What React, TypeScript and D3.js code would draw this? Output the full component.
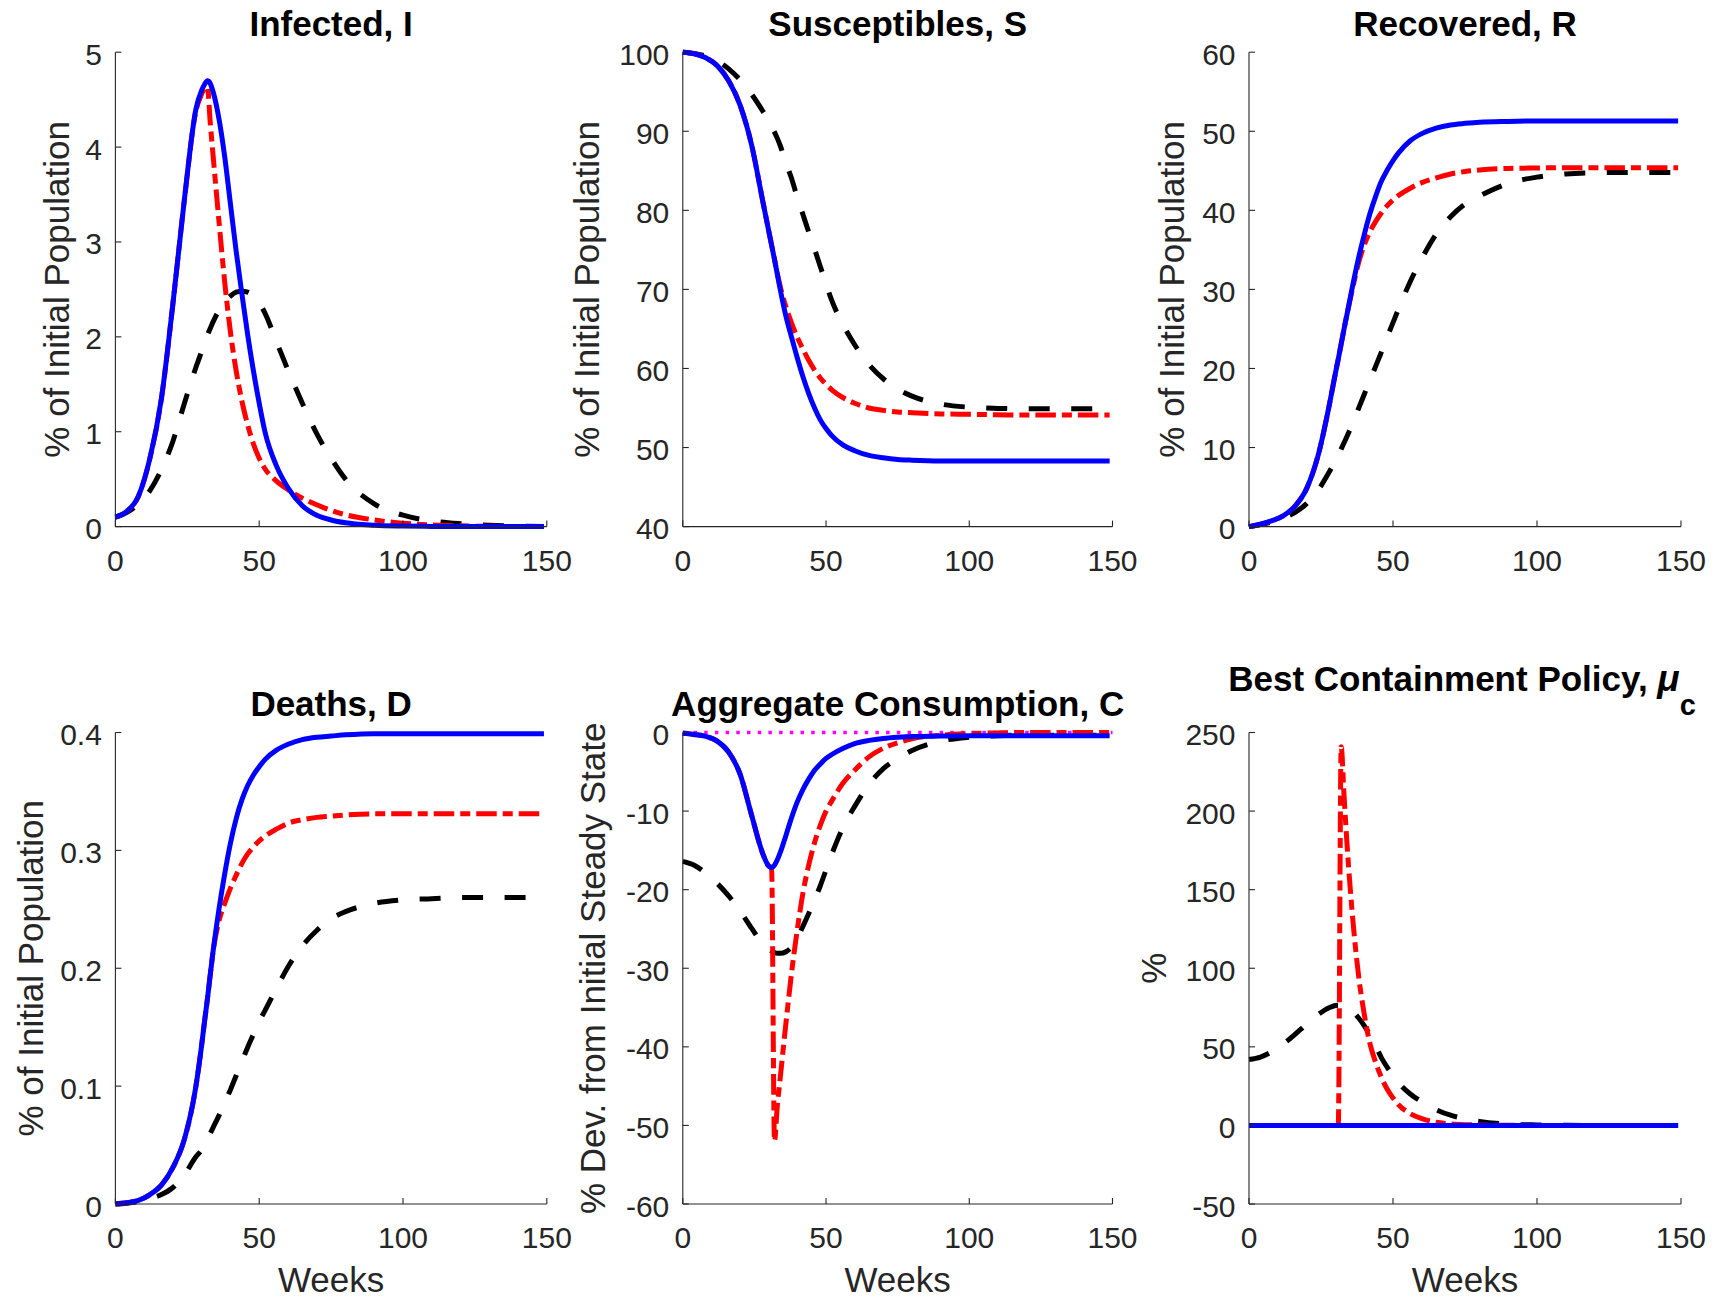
import React from 'react';
import * as d3 from 'd3';

// ---------- data (weeks grid shared by all series) ----------
const weeks = [0, 4, 8, 12, 16, 20, 24, 28, 30, 31, 32, 33, 34, 36, 38, 40, 42, 44, 46, 48, 50, 52, 56, 60, 65, 70, 75, 80, 90, 100, 110, 120, 135, 149];

const infectedBlue = [0.10, 0.16, 0.32, 0.72, 1.35, 2.35, 3.45, 4.40, 4.60, 4.66, 4.70, 4.67, 4.58, 4.30, 3.90, 3.40, 2.90, 2.45, 2.02, 1.64, 1.30, 1.00, 0.64, 0.41, 0.22, 0.12, 0.07, 0.04, 0.015, 0.006, 0.002, 0.001, 0, 0];
const infectedRed = [0.10, 0.16, 0.32, 0.72, 1.35, 2.35, 3.45, 4.38, 4.56, 4.62, 4.63, 4.25, 3.90, 3.22, 2.58, 2.05, 1.64, 1.32, 1.07, 0.87, 0.72, 0.61, 0.48, 0.39, 0.30, 0.23, 0.17, 0.125, 0.07, 0.035, 0.018, 0.008, 0.002, 0];
const infectedBlack = [0.10, 0.15, 0.24, 0.38, 0.60, 0.90, 1.30, 1.68, 1.85, 1.95, 2.02, 2.09, 2.16, 2.28, 2.37, 2.43, 2.47, 2.48, 2.47, 2.43, 2.36, 2.25, 1.95, 1.65, 1.30, 0.98, 0.72, 0.50, 0.24, 0.12, 0.06, 0.03, 0.01, 0];

const susBlue = [100, 99.8, 99.3, 98.3, 96.4, 93.3, 88.3, 81.0, 77.4, 75.6, 73.8, 71.9, 70.0, 66.6, 63.9, 61.3, 58.9, 56.8, 55.0, 53.5, 52.4, 51.5, 50.3, 49.6, 49.0, 48.7, 48.5, 48.4, 48.3, 48.3, 48.3, 48.3, 48.3, 48.3];
const susRed = [100, 99.8, 99.3, 98.3, 96.4, 93.3, 88.3, 81.0, 77.4, 75.6, 73.8, 72.0, 70.4, 67.8, 65.7, 63.9, 62.4, 61.0, 59.8, 58.8, 58.0, 57.3, 56.3, 55.6, 55.0, 54.7, 54.5, 54.4, 54.25, 54.2, 54.15, 54.1, 54.1, 54.1];
const susBlack = [100, 99.85, 99.5, 98.9, 97.9, 96.5, 94.7, 92.5, 91.3, 90.6, 89.9, 89.1, 88.2, 86.0, 84.0, 81.6, 79.4, 77.2, 75.1, 72.9, 70.7, 68.6, 65.5, 63.0, 60.5, 58.7, 57.4, 56.5, 55.5, 55.1, 54.95, 54.9, 54.9, 54.9];

const recBlue = [0, 0.3, 0.75, 1.4, 2.6, 4.8, 9.0, 15.6, 19.4, 21.2, 23.1, 25.0, 26.8, 30.5, 33.9, 36.9, 39.6, 41.8, 43.7, 45.1, 46.3, 47.3, 48.8, 49.7, 50.4, 50.8, 51.0, 51.15, 51.25, 51.3, 51.3, 51.3, 51.3, 51.3];
const recRed = [0, 0.3, 0.75, 1.4, 2.6, 4.8, 9.0, 15.6, 19.4, 21.2, 23.1, 25.0, 26.8, 30.2, 33.3, 35.6, 37.3, 38.6, 39.7, 40.6, 41.3, 41.9, 42.8, 43.5, 44.1, 44.6, 44.9, 45.1, 45.3, 45.35, 45.4, 45.4, 45.4, 45.4];
const recBlack = [0, 0.25, 0.6, 1.1, 1.8, 2.9, 4.6, 7.0, 8.3, 9.0, 9.8, 10.6, 11.4, 13.1, 14.9, 16.7, 18.5, 20.3, 22.1, 24.0, 25.8, 27.6, 31.0, 33.9, 37.0, 39.2, 40.8, 41.8, 43.4, 44.2, 44.6, 44.75, 44.8, 44.8];

const deathBlue = [0, 0.001, 0.003, 0.008, 0.016, 0.031, 0.055, 0.100, 0.135, 0.155, 0.174, 0.195, 0.215, 0.250, 0.280, 0.306, 0.327, 0.343, 0.355, 0.364, 0.371, 0.377, 0.385, 0.390, 0.394, 0.396, 0.397, 0.398, 0.399, 0.399, 0.399, 0.399, 0.399, 0.399];
const deathRed = [0, 0.001, 0.003, 0.008, 0.016, 0.031, 0.055, 0.100, 0.135, 0.155, 0.174, 0.195, 0.215, 0.240, 0.255, 0.268, 0.279, 0.289, 0.297, 0.303, 0.308, 0.312, 0.318, 0.323, 0.326, 0.328, 0.329, 0.330, 0.331, 0.331, 0.331, 0.331, 0.331, 0.331];
const deathBlack = [0, 0.0007, 0.002, 0.0045, 0.008, 0.014, 0.025, 0.040, 0.046, 0.050, 0.055, 0.060, 0.065, 0.075, 0.086, 0.097, 0.109, 0.121, 0.133, 0.144, 0.155, 0.164, 0.183, 0.201, 0.219, 0.232, 0.242, 0.248, 0.255, 0.258, 0.259, 0.26, 0.26, 0.26];

const consBlue = [-0.1, -0.25, -0.5, -1.1, -2.5, -5.3, -10.5, -15.5, -17.0, -17.2, -16.9, -16.2, -15.3, -13.1, -10.8, -8.8, -7.2, -5.9, -4.8, -4.0, -3.3, -2.8, -2.0, -1.4, -1.0, -0.75, -0.6, -0.5, -0.45, -0.4, -0.4, -0.4, -0.4, -0.4];
const consRed = [-0.1, -0.25, -0.5, -1.1, -2.5, -5.3, -10.5, -15.5, -17.0, -17.2, -52, -47.5, -44, -37, -30.5, -25, -20.3, -16.8, -14, -11.8, -10, -8.7, -6.4, -4.8, -3.1, -2.0, -1.3, -0.8, -0.35, -0.15, -0.05, 0, 0, 0];
const consBlack = [-16.4, -16.9, -17.9, -19.2, -20.8, -22.7, -24.9, -26.9, -27.5, -27.8, -28.0, -28.1, -28.1, -27.9, -27.3, -26.1, -24.6, -23.0, -21.3, -19.5, -17.5, -15.5, -12.0, -9.4, -6.6, -4.6, -3.3, -2.3, -1.1, -0.6, -0.4, -0.35, -0.35, -0.35];
const consZeroWeeks = [0, 150];
const consZero = [0, 0];

const policyBlue = [0, 0, 0, 0, 0, 0, 0, 0, 0, 0, 0, 0, 0, 0, 0, 0, 0, 0, 0, 0, 0, 0, 0, 0, 0, 0, 0, 0, 0, 0, 0, 0, 0, 0];
const policyRed = [0, 0, 0, 0, 0, 0, 0, 0, 0, 0, 241, 210, 180, 132, 96, 71, 52, 40, 30.5, 23, 17.5, 13, 7.5, 4.3, 2.0, 1.0, 0.5, 0.25, 0.05, 0, 0, 0, 0, 0];
const policyBlack = [42, 43.5, 47, 52, 58, 64.5, 70.5, 75, 76.3, 76.5, 76.3, 75.8, 75, 72.5, 68.5, 63.5, 57.5, 50.5, 43, 37, 32, 27, 20, 15, 10, 6.5, 4.2, 2.5, 0.8, 0.3, 0.1, 0, 0, 0];

// ---------- tick labels ----------
const xTicks = [0, 50, 100, 150];
const ticksI = [0, 1, 2, 3, 4, 5];
const ticksS = [40, 50, 60, 70, 80, 90, 100];
const ticksR = [0, 10, 20, 30, 40, 50, 60];
const ticksD = [0, 0.1, 0.2, 0.3, 0.4];
const ticksC = [-60, -50, -40, -30, -20, -10, 0];
const ticksP = [-50, 0, 50, 100, 150, 200, 250];

const titles = ['Infected, I', 'Susceptibles, S', 'Recovered, R', 'Deaths, D', 'Aggregate Consumption, C', 'Best Containment Policy, '];
const yLabels = ['% of Initial Population', '% of Initial Population', '% of Initial Population', '% of Initial Population', '% Dev. from Initial Steady State', '%'];

// ---------- layout ----------
const W = 1717;
const H = 1298;
const COLS = [[115.4, 546.8], [682.8, 1112.5], [1249, 1681]];
const ROWS = [[52.2, 526.6], [732.5, 1204]];
const YLABEL_X = [68.5, 598.8, 1184.4, 42.5, 605, 1166];
const TITLE_Y = [36, 36, 36, 716, 716, 691];
const AXIS = '#262626';
const FONT = '"Liberation Sans", Arial, Helvetica, sans-serif';
const TICK_FS = 30;
const LABEL_FS = 35;
const TITLE_FS = 35;

const STYLE = {
  black: { stroke: '#000000', dash: '21 21.5' },
  red: { stroke: '#ff0000', dash: '20.5 6 10 6' },
  blue: { stroke: '#0000ff', dash: null },
  magenta: { stroke: '#ff00ff', dash: '3.5 7.2' },
};

type Series = { xs: number[]; ys: number[]; kind: keyof typeof STYLE; width: number };
type PanelCfg = { ticks: number[]; domain: [number, number]; series: Series[]; fmt?: (v: number) => string };

const lw = 5;
const panels: PanelCfg[] = [
  { ticks: ticksI, domain: [0, 5], series: [
    { xs: weeks, ys: infectedBlack, kind: 'black', width: lw },
    { xs: weeks, ys: infectedRed, kind: 'red', width: lw },
    { xs: weeks, ys: infectedBlue, kind: 'blue', width: lw },
  ] },
  { ticks: ticksS, domain: [40, 100], series: [
    { xs: weeks, ys: susBlack, kind: 'black', width: lw },
    { xs: weeks, ys: susRed, kind: 'red', width: lw },
    { xs: weeks, ys: susBlue, kind: 'blue', width: lw },
  ] },
  { ticks: ticksR, domain: [0, 60], series: [
    { xs: weeks, ys: recBlack, kind: 'black', width: lw },
    { xs: weeks, ys: recRed, kind: 'red', width: lw },
    { xs: weeks, ys: recBlue, kind: 'blue', width: lw },
  ] },
  { ticks: ticksD, domain: [0, 0.4], fmt: (v) => (v === 0 ? '0' : d3.format('.1f')(v)), series: [
    { xs: weeks, ys: deathBlack, kind: 'black', width: lw },
    { xs: weeks, ys: deathRed, kind: 'red', width: lw },
    { xs: weeks, ys: deathBlue, kind: 'blue', width: lw },
  ] },
  { ticks: ticksC, domain: [-60, 0], series: [
    { xs: consZeroWeeks, ys: consZero, kind: 'magenta', width: 3.5 },
    { xs: weeks, ys: consBlack, kind: 'black', width: lw },
    { xs: weeks, ys: consRed, kind: 'red', width: lw },
    { xs: weeks, ys: consBlue, kind: 'blue', width: lw },
  ] },
  { ticks: ticksP, domain: [-50, 250], series: [
    { xs: weeks, ys: policyBlack, kind: 'black', width: lw },
    { xs: weeks, ys: policyRed, kind: 'red', width: lw },
    { xs: weeks, ys: policyBlue, kind: 'blue', width: lw },
  ] },
];

function Panel({ cfg, idx }: { cfg: PanelCfg; idx: number }) {
  const [x0, x1] = COLS[idx % 3];
  const [yt, yb] = ROWS[Math.floor(idx / 3)];
  const x = d3.scaleLinear().domain([0, 150]).range([x0, x1]);
  const y = d3.scaleLinear().domain(cfg.domain).range([yb, yt]);
  const fmt = cfg.fmt || ((v: number) => String(v));
  const line = d3
    .line<[number, number]>()
    .x((d) => x(d[0]))
    .y((d) => y(d[1]))
    .curve(d3.curveMonotoneX);
  const cx = (x0 + x1) / 2;
  const cy = (yt + yb) / 2;
  const bottom = idx >= 3;
  return (
    <g>
      {cfg.series.map((s, i) => {
        const st = STYLE[s.kind];
        const pts = s.xs.map((w, j) => [w, s.ys[j]] as [number, number]);
        return (
          <path
            key={i}
            d={line(pts) || ''}
            fill="none"
            stroke={st.stroke}
            strokeWidth={s.width}
            strokeDasharray={st.dash || undefined}
            strokeLinejoin="round"
            strokeLinecap="butt"
          />
        );
      })}
      <line x1={x0} x2={x1} y1={yb} y2={yb} stroke={AXIS} strokeWidth={1.1} />
      <line x1={x0} x2={x0} y1={yt} y2={yb} stroke={AXIS} strokeWidth={1.1} />
      {xTicks.map((t) => (
        <g key={'x' + t}>
          <line x1={x(t)} x2={x(t)} y1={yb} y2={yb - 6} stroke={AXIS} strokeWidth={1.1} />
          <text x={x(t)} y={yb + 44} textAnchor="middle" fontSize={TICK_FS} fill={AXIS} fontFamily={FONT}>
            {t}
          </text>
        </g>
      ))}
      {cfg.ticks.map((t) => (
        <g key={'y' + t}>
          <line x1={x0} x2={x0 + 6} y1={y(t)} y2={y(t)} stroke={AXIS} strokeWidth={1.1} />
          <text x={x0 - 13.5} y={y(t) + 12.5} textAnchor="end" fontSize={TICK_FS} fill={AXIS} fontFamily={FONT}>
            {fmt(t)}
          </text>
        </g>
      ))}
      <text
        transform={`translate(${YLABEL_X[idx]},${cy}) rotate(-90)`}
        textAnchor="middle"
        fontSize={LABEL_FS}
        fill={AXIS}
        fontFamily={FONT}
      >
        {yLabels[idx]}
      </text>
      {bottom && (
        <text x={cx} y={1292} textAnchor="middle" fontSize={LABEL_FS} fill={AXIS} fontFamily={FONT}>
          Weeks
        </text>
      )}
      {idx === 5 ? (
        <text x={cx - 3} y={TITLE_Y[idx]} textAnchor="middle" fontSize={TITLE_FS} fontWeight="bold" fill="#000" fontFamily={FONT}>
          {titles[idx]}
          <tspan fontStyle="italic" fontSize={37}>μ</tspan>
          <tspan dy={24} fontSize={29}>c</tspan>
        </text>
      ) : (
        <text x={cx} y={TITLE_Y[idx]} textAnchor="middle" fontSize={TITLE_FS} fontWeight="bold" fill="#000" fontFamily={FONT}>
          {titles[idx]}
        </text>
      )}
    </g>
  );
}

export default function App() {
  return (
    <svg
      width={W}
      height={H}
      viewBox={`0 0 ${W} ${H}`}
      style={{ position: 'absolute', left: 0, top: 0, background: '#fff' }}
    >
      <rect x={0} y={0} width={W} height={H} fill="#fff" />
      {panels.map((p, i) => (
        <Panel key={i} cfg={p} idx={i} />
      ))}
    </svg>
  );
}
